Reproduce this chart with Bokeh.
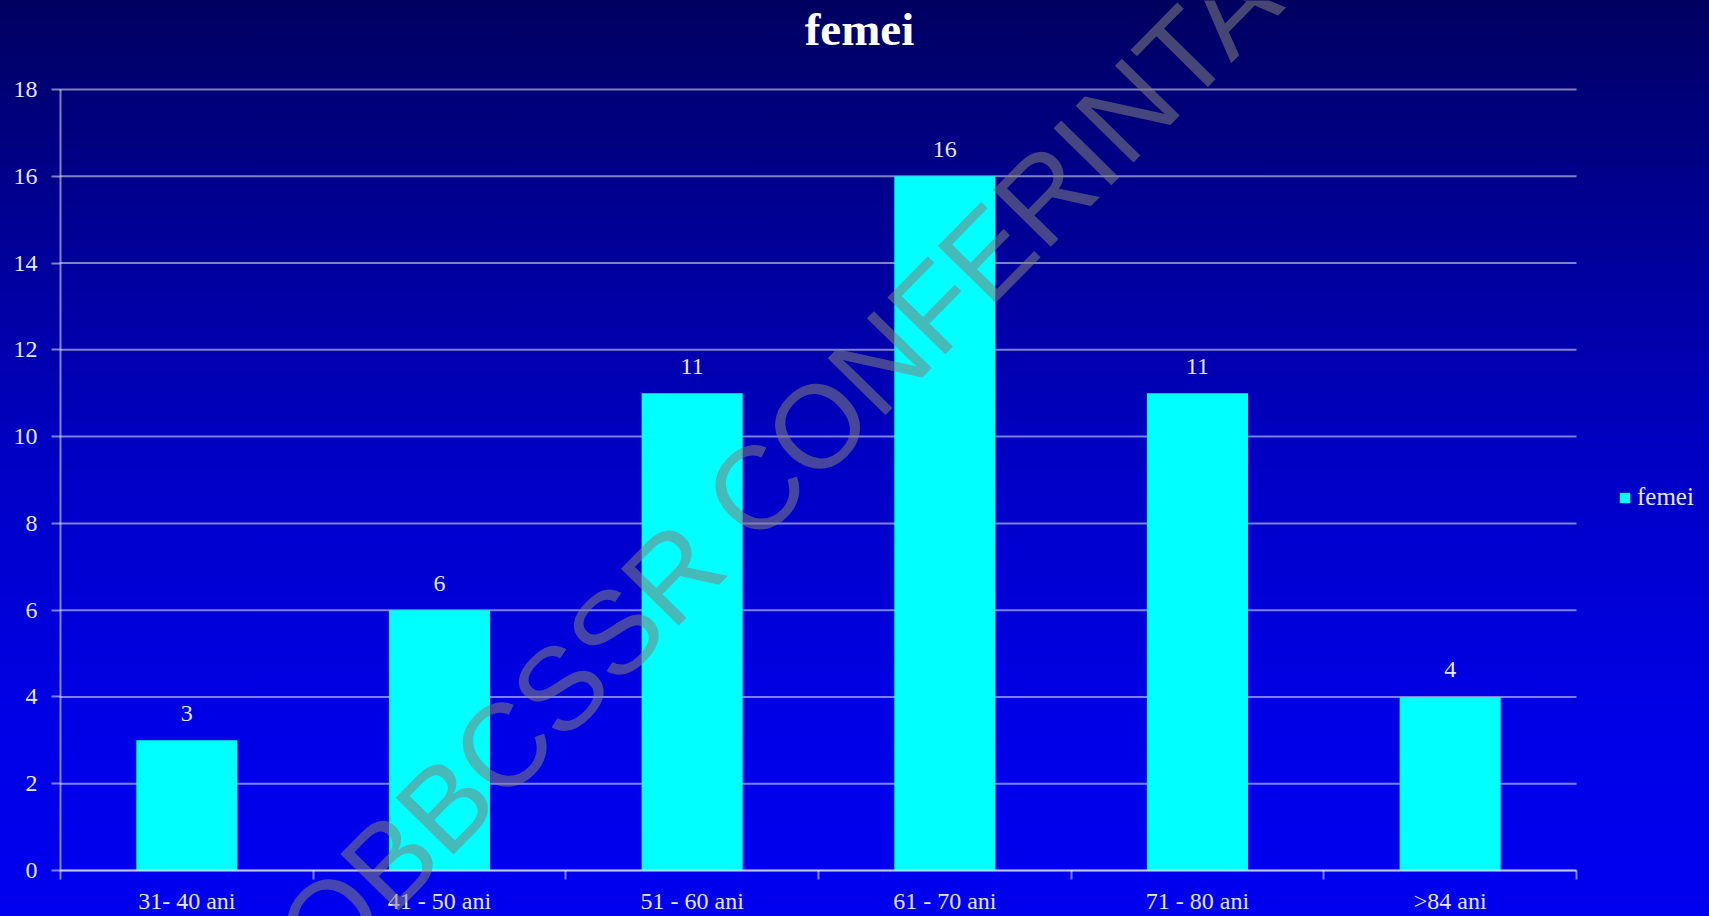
from bokeh.plotting import figure
from bokeh.models import Range1d, FixedTicker, Label, Legend, LegendItem, ColumnDataSource, LinearAxis
from bokeh.core.properties import value
from bokeh.embed import file_html
from bokeh.resources import INLINE

# Age groups and counts of women per group
categories = ["31- 40 ani", "41 - 50 ani", "51 - 60 ani", "61 - 70 ani", "71 - 80 ani", ">84 ani"]
femei = [3, 6, 11, 16, 11, 4]
y_ticks = [0, 2, 4, 6, 8, 10, 12, 14, 16, 18]
series_name = "femei"
title_text = "femei"
watermark_text = "OBBCSSR CONFERINTA"

# Category centres and boundaries on a numeric axis
centers = [i + 0.5 for i in range(len(categories))]
bounds = list(range(len(categories) + 1))
n = len(categories)
y_max = y_ticks[-1]

# Canvas geometry: the frame fills the whole canvas, the plotting box sits inside it
W, H = 1709, 916
BOX_L, BOX_R, BOX_T, BOX_B = 60, 1576, 89, 870
px_x = (BOX_R - BOX_L) / n
px_y = (BOX_B - BOX_T) / y_max
x_range = Range1d(-BOX_L / px_x, n + (W - BOX_R) / px_x)
y_range = Range1d(-(H - BOX_B) / px_y, y_max + BOX_T / px_y)

SERIF = "Liberation Serif"
LABEL_COLOR = "#e6e6ff"
LINE_COLOR = "white"
LINE_ALPHA = 0.5

p = figure(
    width=W, height=H, x_range=x_range, y_range=y_range,
    output_backend="svg", toolbar_location=None,
    x_axis_type=None, y_axis_type=None, min_border=0,
)
p.styles = {"background": "linear-gradient(180deg, #000060 0%, #00008c 20%, #0000c4 50%, #0000e6 78%, #0000f0 100%)"}
p.border_fill_alpha = 0
p.background_fill_alpha = 0
p.outline_line_color = None

# Horizontal grid lines across the category span
p.segment(x0=[0] * len(y_ticks), x1=[n] * len(y_ticks), y0=y_ticks, y1=y_ticks,
          line_color=LINE_COLOR, line_alpha=LINE_ALPHA, line_width=2)

# Axes pinned to the data origin
xaxis = LinearAxis(ticker=FixedTicker(ticks=centers, minor_ticks=bounds),
                   fixed_location=0, bounds=(0, n))
xaxis.major_label_overrides = {c: lab for c, lab in zip(centers, categories)}
xaxis.major_tick_line_color = None
xaxis.major_tick_out = 0
xaxis.major_tick_in = 0
xaxis.minor_tick_out = 9
xaxis.minor_tick_in = 0
xaxis.minor_tick_line_color = LINE_COLOR
xaxis.minor_tick_line_alpha = LINE_ALPHA
xaxis.minor_tick_line_width = 2
xaxis.axis_line_color = LINE_COLOR
xaxis.axis_line_alpha = LINE_ALPHA
xaxis.axis_line_width = 2
xaxis.major_label_standoff = 8
xaxis.major_label_text_font = SERIF
xaxis.major_label_text_font_size = "24px"
xaxis.major_label_text_color = LABEL_COLOR
p.add_layout(xaxis, "below")

yaxis = LinearAxis(ticker=FixedTicker(ticks=y_ticks, minor_ticks=[]),
                   fixed_location=0, bounds=(0, y_max))
yaxis.major_tick_out = 9
yaxis.major_tick_in = 0
yaxis.major_tick_line_color = LINE_COLOR
yaxis.major_tick_line_alpha = LINE_ALPHA
yaxis.major_tick_line_width = 2
yaxis.minor_tick_line_color = None
yaxis.axis_line_color = LINE_COLOR
yaxis.axis_line_alpha = LINE_ALPHA
yaxis.axis_line_width = 2
yaxis.major_label_standoff = 14
yaxis.major_label_text_font = SERIF
yaxis.major_label_text_font_size = "24px"
yaxis.major_label_text_color = LABEL_COLOR
p.add_layout(yaxis, "left")

src = ColumnDataSource(dict(x=centers, top=femei, label=[str(v) for v in femei], cat=categories))

bars = p.vbar(x="x", top="top", width=0.4, source=src, fill_color="#00ffff", line_color=None)

p.text(x="x", y="top", text="label", source=src, y_offset=-27,
       text_align="center", text_baseline="alphabetic",
       text_font=value(SERIF), text_font_size="24px", text_color=LABEL_COLOR)

# Title centred over the canvas
p.add_layout(Label(x=859, y=H - 28, x_units="screen", y_units="screen", text=title_text,
                   text_align="center", text_baseline="alphabetic",
                   text_font=SERIF, text_font_size="47px", text_font_style="bold",
                   text_color="white"))

legend = Legend(items=[LegendItem(label=series_name, renderers=[bars])],
                location=(1618, H - 511), orientation="vertical",
                glyph_width=13, glyph_height=13, label_standoff=6,
                padding=0, margin=0, spacing=0,
                background_fill_alpha=0, border_line_color=None,
                label_text_font=SERIF, label_text_font_size="25px",
                label_text_color=LABEL_COLOR)
p.add_layout(legend, "center")

# Diagonal watermark
p.add_layout(Label(x=(777 - BOX_L) / px_x, y=(BOX_B - 466) / px_y, text=watermark_text,
                   angle=45.5, angle_units="deg",
                   text_align="center", text_baseline="middle",
                   text_font="Liberation Sans", text_font_size="118px",
                   text_color="#808080", text_alpha=0.55))

open("out.html", "w").write(file_html(p, INLINE))
